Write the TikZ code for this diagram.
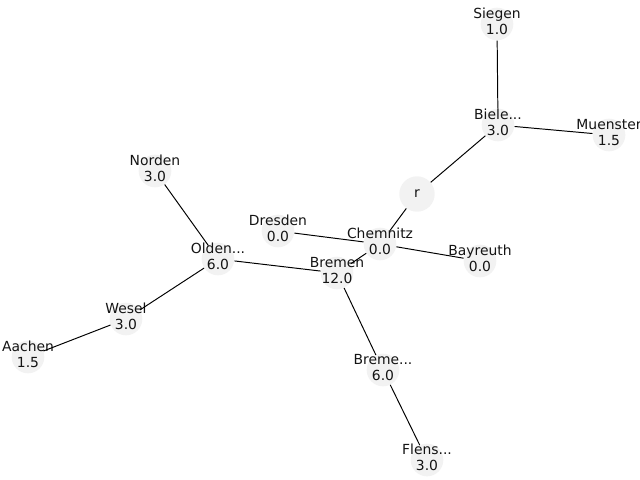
\documentclass[tikz,border=0pt]{standalone}
\usepackage{fontspec}
\setmainfont{DejaVu Sans}
\usepackage{xcolor}
\definecolor{nodegray}{RGB}{242,242,242}
\definecolor{textgray}{RGB}{20,20,20}

\tikzset{
  ville/.style={circle, fill=nodegray, minimum size=23.5pt, inner sep=0pt},
  racine/.style={ville, minimum size=25.5pt},
  nom/.style={align=center, text=textgray, inner sep=0pt, yshift=2pt,
    font=\fontsize{10}{11.6}\selectfont},
  lien/.style={black, line width=0.7pt}
}

\begin{document}
\begin{tikzpicture}[x=0.72pt, y=-0.72pt]
  \useasboundingbox (0,0) rectangle (640,480);

  \node[ville, label={[nom]center:Siegen\\1.0}] (sie) at (497,24) {};
  \node[ville, label={[nom]center:Biele...\\3.0}] (bie) at (498,125) {};
  \node[ville, label={[nom]center:Muenster\\1.5}] (mue) at (609,135) {};
  \node[racine, label={[nom, yshift=-2pt]center:r}] (r) at (417,194) {};
  \node[ville, label={[nom]center:Norden\\3.0}] (nor) at (155,171) {};
  \node[ville, label={[nom]center:Dresden\\0.0}] (dre) at (278,231) {};
  \node[ville, label={[nom]center:Chemnitz\\0.0}] (che) at (380,244) {};
  \node[ville, label={[nom]center:Olden...\\6.0}] (old) at (218,259) {};
  \node[ville, label={[nom]center:Bayreuth\\0.0}] (bay) at (480,261) {};
  \node[ville, label={[nom]center:Bremen\\12.0}] (bre) at (337,273) {};
  \node[ville, label={[nom]center:Wesel\\3.0}] (wes) at (126,319) {};
  \node[ville, label={[nom]center:Aachen\\1.5}] (aac) at (28,357) {};
  \node[ville, label={[nom]center:Breme...\\6.0}] (brm) at (383,370) {};
  \node[ville, label={[nom]center:Flens...\\3.0}] (fle) at (427,460) {};

  \draw[lien] (sie) -- (bie);
  \draw[lien] (bie) -- (mue);
  \draw[lien] (bie) -- (r);
  \draw[lien] (r) -- (che);
  \draw[lien] (dre) -- (che);
  \draw[lien] (che) -- (bay);
  \draw[lien] (che) -- (bre);
  \draw[lien] (nor) -- (old);
  \draw[lien] (old) -- (bre);
  \draw[lien] (old) -- (wes);
  \draw[lien] (wes) -- (aac);
  \draw[lien] (bre) -- (brm);
  \draw[lien] (brm) -- (fle);
\end{tikzpicture}
\end{document}
